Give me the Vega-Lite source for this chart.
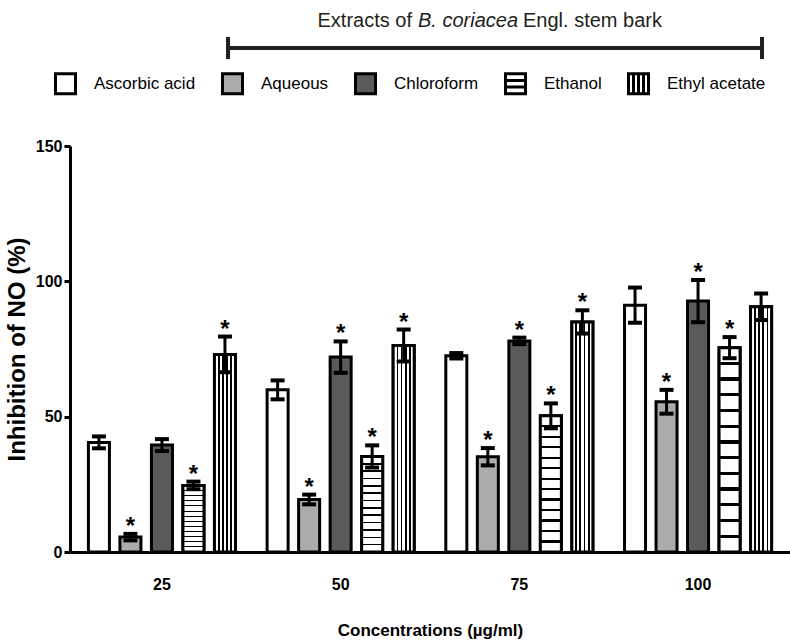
{
  "$schema": "https://vega.github.io/schema/vega-lite/v6.json",
  "width": 720,
  "height": 406,
  "autosize": {"type": "none"},
  "padding": {"left": 70, "top": 146, "right": 0, "bottom": 91},
  "background": "white",
  "config": {
    "font": "Liberation Sans",
    "view": {"stroke": null},
    "axis": {
      "domainColor": "black", "domainWidth": 3, "tickColor": "black", "tickWidth": 3,
      "labelColor": "black", "titleColor": "black", "grid": false,
      "labelFont": "Liberation Sans", "labelFontWeight": "bold", "labelFontSize": 16,
      "titleFont": "Liberation Sans", "titleFontWeight": "bold", "titleFontSize": 17
    }
  },
  "layer": [
    {
      "data": {"values": [
        {"conc": "25", "extract": "Ascorbic acid", "mean": 40.5, "lo": 38.3, "hi": 42.7, "sig": ""},
        {"conc": "25", "extract": "Aqueous", "mean": 5.5, "lo": 4.3, "hi": 6.7, "sig": "*"},
        {"conc": "25", "extract": "Chloroform", "mean": 39.5, "lo": 37.3, "hi": 41.7, "sig": ""},
        {"conc": "25", "extract": "Ethanol", "mean": 24.6, "lo": 23.2, "hi": 26.0, "sig": "*"},
        {"conc": "25", "extract": "Ethyl acetate", "mean": 73.0, "lo": 66.4, "hi": 79.6, "sig": "*"},
        {"conc": "50", "extract": "Ascorbic acid", "mean": 59.9, "lo": 56.4, "hi": 63.4, "sig": ""},
        {"conc": "50", "extract": "Aqueous", "mean": 19.4, "lo": 17.6, "hi": 21.2, "sig": "*"},
        {"conc": "50", "extract": "Chloroform", "mean": 72.0, "lo": 66.2, "hi": 77.8, "sig": "*"},
        {"conc": "50", "extract": "Ethanol", "mean": 35.3, "lo": 31.2, "hi": 39.4, "sig": "*"},
        {"conc": "50", "extract": "Ethyl acetate", "mean": 76.3, "lo": 70.4, "hi": 82.2, "sig": "*"},
        {"conc": "75", "extract": "Ascorbic acid", "mean": 72.5, "lo": 71.5, "hi": 73.5, "sig": ""},
        {"conc": "75", "extract": "Aqueous", "mean": 35.2, "lo": 32.0, "hi": 38.4, "sig": "*"},
        {"conc": "75", "extract": "Chloroform", "mean": 78.0, "lo": 76.8, "hi": 79.2, "sig": "*"},
        {"conc": "75", "extract": "Ethanol", "mean": 50.3, "lo": 45.7, "hi": 54.9, "sig": "*"},
        {"conc": "75", "extract": "Ethyl acetate", "mean": 85.0, "lo": 80.7, "hi": 89.3, "sig": "*"},
        {"conc": "100", "extract": "Ascorbic acid", "mean": 91.2, "lo": 84.7, "hi": 97.7, "sig": ""},
        {"conc": "100", "extract": "Aqueous", "mean": 55.5, "lo": 51.1, "hi": 59.9, "sig": "*"},
        {"conc": "100", "extract": "Chloroform", "mean": 92.7, "lo": 84.9, "hi": 100.5, "sig": "*"},
        {"conc": "100", "extract": "Ethanol", "mean": 75.5, "lo": 71.6, "hi": 79.4, "sig": "*"},
        {"conc": "100", "extract": "Ethyl acetate", "mean": 90.6, "lo": 85.7, "hi": 95.5, "sig": ""}
      ]},
      "encoding": {
        "x": {
          "field": "conc", "type": "ordinal", "sort": ["25", "50", "75", "100"],
          "scale": {"paddingInner": 0.177, "paddingOuter": 0.103},
          "axis": {"title": "Concentrations (µg/ml)", "labelAngle": 0, "ticks": false, "labelPadding": 24, "titlePadding": 30}
        },
        "xOffset": {
          "field": "extract", "type": "nominal",
          "sort": ["Ascorbic acid", "Aqueous", "Chloroform", "Ethanol", "Ethyl acetate"],
          "scale": {"paddingInner": 0.333, "paddingOuter": 0}
        },
        "y": {
          "field": "mean", "type": "quantitative",
          "scale": {"domain": [0, 150], "nice": false},
          "axis": {"values": [0, 50, 100, 150], "title": "Inhibition of NO (%)", "tickSize": 6, "labelPadding": 2, "titlePadding": 6, "titleFontSize": 24}
        }
      },
      "layer": [
        {
          "mark": {"type": "bar", "stroke": "black", "strokeWidth": 3},
          "encoding": {
            "fill": {
              "field": "extract", "type": "nominal",
              "scale": {
                "domain": ["Ascorbic acid", "Aqueous", "Chloroform", "Ethanol", "Ethyl acetate"],
                "range": ["#ffffff", "#ababab", "#5a5a5a", "#ffffff", "#ffffff"]
              },
              "legend": {
                "title": null, "orient": "none", "legendX": -16, "legendY": -74,
                "direction": "horizontal", "columns": 5,
                "symbolType": "square", "symbolSize": 400, "symbolStrokeColor": "black", "symbolStrokeWidth": 3, "symbolOpacity": 1,
                "labelFont": "Liberation Sans", "labelFontSize": 17, "labelColor": "black", "labelOffset": 17, "columnPadding": 20,
                "encode": {
                  "symbols": {
                    "update": {
                      "stroke": {"value": "black"},
                      "strokeWidth": {"value": 3},
                      "shape": {"signal": "datum.value === 'Ethanol' ? 'M-1,-1H1V1H-1ZM-1,-0.33H1M-1,0.33H1' : datum.value === 'Ethyl acetate' ? 'M-1,-1H1V1H-1ZM-0.5,-1V1M0,-1V1M0.5,-1V1' : 'square'"}
                    }
                  }
                }
              }
            }
          }
        },
        {
          "transform": [{"filter": "datum.extract === 'Ethanol'"}],
          "mark": {
            "type": "bar", "stroke": "black", "strokeWidth": 3,
            "fill": {"gradient": "linear", "x1": 0, "y1": 0, "x2": 0, "y2": 1, "stops": [
              {"offset": 0, "color": "#ffffff"},
              {"offset": 0.069, "color": "#ffffff"}, {"offset": 0.069, "color": "#000000"}, {"offset": 0.085, "color": "#000000"}, {"offset": 0.085, "color": "#ffffff"},
              {"offset": 0.146, "color": "#ffffff"}, {"offset": 0.146, "color": "#000000"}, {"offset": 0.162, "color": "#000000"}, {"offset": 0.162, "color": "#ffffff"},
              {"offset": 0.223, "color": "#ffffff"}, {"offset": 0.223, "color": "#000000"}, {"offset": 0.239, "color": "#000000"}, {"offset": 0.239, "color": "#ffffff"},
              {"offset": 0.300, "color": "#ffffff"}, {"offset": 0.300, "color": "#000000"}, {"offset": 0.316, "color": "#000000"}, {"offset": 0.316, "color": "#ffffff"},
              {"offset": 0.377, "color": "#ffffff"}, {"offset": 0.377, "color": "#000000"}, {"offset": 0.393, "color": "#000000"}, {"offset": 0.393, "color": "#ffffff"},
              {"offset": 0.454, "color": "#ffffff"}, {"offset": 0.454, "color": "#000000"}, {"offset": 0.470, "color": "#000000"}, {"offset": 0.470, "color": "#ffffff"},
              {"offset": 0.531, "color": "#ffffff"}, {"offset": 0.531, "color": "#000000"}, {"offset": 0.547, "color": "#000000"}, {"offset": 0.547, "color": "#ffffff"},
              {"offset": 0.607, "color": "#ffffff"}, {"offset": 0.607, "color": "#000000"}, {"offset": 0.623, "color": "#000000"}, {"offset": 0.623, "color": "#ffffff"},
              {"offset": 0.684, "color": "#ffffff"}, {"offset": 0.684, "color": "#000000"}, {"offset": 0.700, "color": "#000000"}, {"offset": 0.700, "color": "#ffffff"},
              {"offset": 0.761, "color": "#ffffff"}, {"offset": 0.761, "color": "#000000"}, {"offset": 0.777, "color": "#000000"}, {"offset": 0.777, "color": "#ffffff"},
              {"offset": 0.838, "color": "#ffffff"}, {"offset": 0.838, "color": "#000000"}, {"offset": 0.854, "color": "#000000"}, {"offset": 0.854, "color": "#ffffff"},
              {"offset": 0.915, "color": "#ffffff"}, {"offset": 0.915, "color": "#000000"}, {"offset": 0.931, "color": "#000000"}, {"offset": 0.931, "color": "#ffffff"},
              {"offset": 1, "color": "#ffffff"}
            ]}
          }
        },
        {
          "transform": [{"filter": "datum.extract === 'Ethyl acetate'"}],
          "mark": {
            "type": "bar", "stroke": "black", "strokeWidth": 3,
            "fill": {"gradient": "linear", "x1": 0, "y1": 0, "x2": 1, "y2": 0, "stops": [
              {"offset": 0, "color": "#ffffff"},
              {"offset": 0.16, "color": "#ffffff"}, {"offset": 0.16, "color": "#000000"}, {"offset": 0.24, "color": "#000000"}, {"offset": 0.24, "color": "#ffffff"},
              {"offset": 0.36, "color": "#ffffff"}, {"offset": 0.36, "color": "#000000"}, {"offset": 0.44, "color": "#000000"}, {"offset": 0.44, "color": "#ffffff"},
              {"offset": 0.56, "color": "#ffffff"}, {"offset": 0.56, "color": "#000000"}, {"offset": 0.64, "color": "#000000"}, {"offset": 0.64, "color": "#ffffff"},
              {"offset": 0.76, "color": "#ffffff"}, {"offset": 0.76, "color": "#000000"}, {"offset": 0.84, "color": "#000000"}, {"offset": 0.84, "color": "#ffffff"},
              {"offset": 1, "color": "#ffffff"}
            ]}
          }
        },
        {
          "mark": {"type": "rule", "color": "black", "strokeWidth": 3},
          "encoding": {"y": {"field": "lo", "type": "quantitative"}, "y2": {"field": "hi"}}
        },
        {
          "mark": {"type": "tick", "color": "black", "thickness": 4, "size": 14, "opacity": 1},
          "encoding": {"y": {"field": "hi", "type": "quantitative"}}
        },
        {
          "mark": {"type": "tick", "color": "black", "thickness": 4, "size": 14, "opacity": 1},
          "encoding": {"y": {"field": "lo", "type": "quantitative"}}
        },
        {
          "mark": {"type": "text", "fontSize": 24, "fontWeight": "bold", "baseline": "alphabetic", "color": "black"},
          "encoding": {"y": {"field": "hi", "type": "quantitative"}, "text": {"field": "sig"}}
        }
      ]
    },
    {
      "data": {"values": [{}]},
      "layer": [
        {
          "mark": {"type": "rule", "color": "#231f20", "strokeWidth": 4},
          "encoding": {
            "x": {"datum": 158, "type": "quantitative", "scale": {"domain": [0, 720], "nice": false}, "axis": null},
            "x2": {"datum": 692},
            "y": {"datum": 186.2, "type": "quantitative", "scale": {"domain": [0, 150], "nice": false}, "axis": null}
          }
        },
        {
          "mark": {"type": "rule", "color": "#231f20", "strokeWidth": 4},
          "encoding": {
            "x": {"datum": 158, "type": "quantitative"},
            "y": {"datum": 182.1, "type": "quantitative"},
            "y2": {"datum": 190.3}
          }
        },
        {
          "mark": {"type": "rule", "color": "#231f20", "strokeWidth": 4},
          "encoding": {
            "x": {"datum": 692, "type": "quantitative"},
            "y": {"datum": 182.1, "type": "quantitative"},
            "y2": {"datum": 190.3}
          }
        },
        {
          "mark": {"type": "text", "text": "Extracts of", "align": "right", "baseline": "alphabetic", "fontSize": 20, "color": "#231f20"},
          "encoding": {"x": {"datum": 342, "type": "quantitative"}, "y": {"datum": 194.0, "type": "quantitative"}}
        },
        {
          "mark": {"type": "text", "text": "B. coriacea", "align": "left", "baseline": "alphabetic", "fontSize": 20, "fontStyle": "italic", "color": "#231f20"},
          "encoding": {"x": {"datum": 348, "type": "quantitative"}, "y": {"datum": 194.0, "type": "quantitative"}}
        },
        {
          "mark": {"type": "text", "text": "Engl. stem bark", "align": "left", "baseline": "alphabetic", "fontSize": 20, "color": "#231f20"},
          "encoding": {"x": {"datum": 453, "type": "quantitative"}, "y": {"datum": 194.0, "type": "quantitative"}}
        }
      ]
    }
  ],
  "resolve": {"scale": {"x": "independent", "y": "independent"}}
}
